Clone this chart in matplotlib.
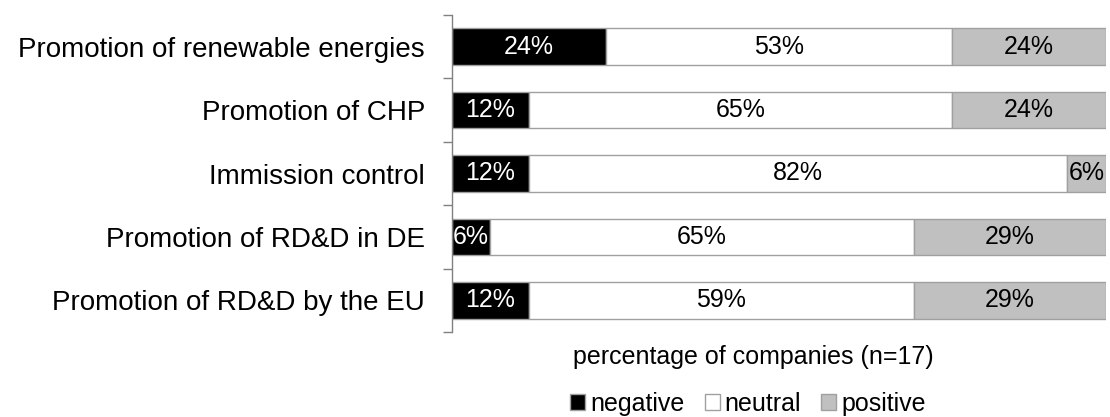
import matplotlib
matplotlib.use("Agg")
import matplotlib.pyplot as plt
from matplotlib.patches import Patch

plt.rcParams['font.family'] = ['Liberation Sans', 'DejaVu Sans']

categories = ["Promotion of renewable energies", "Promotion of CHP", "Immission control",
              "Promotion of RD&D in DE", "Promotion of RD&D by the EU"]
negative = [23.53, 11.76, 11.76, 5.88, 11.76]
neutral = [52.94, 64.71, 82.35, 64.71, 58.82]
positive = [23.53, 23.53, 5.88, 29.41, 29.41]
series_names = ["negative", "neutral", "positive"]
colors = ["#000000", "#ffffff", "#c0c0c0"]
text_colors = ["white", "black", "black"]

fig = plt.figure(figsize=(11.10, 4.17), dpi=100)
ax = fig.add_axes([452/1110, 1-332/417, 654/1110, 317/417])

y = list(range(len(categories)))
left = [0.0] * len(categories)
for vals, col, tc in zip([negative, neutral, positive], colors, text_colors):
    ax.barh(y, vals, left=left, height=0.58, color=col, edgecolor="#a0a0a0", linewidth=1.0)
    for yi, l, v in zip(y, left, vals):
        ax.text(l + v/2, yi, f"{v:.0f}%", ha="center", va="center", fontsize=18, color=tc)
    left = [a + b for a, b in zip(left, vals)]

ax.set_xlim(0, 100)
ax.set_ylim(len(categories) - 0.5, -0.5)
ax.set_yticks(y)
ax.set_yticklabels(categories, fontsize=20)
ax.tick_params(axis="y", which="major", length=0, pad=19.5)
ax.set_yticks([i - 0.5 for i in range(len(categories) + 1)], minor=True)
ax.tick_params(axis="y", which="minor", length=6.5, color="#808080", width=1.0)
ax.set_xticks([])
for s in ["top", "right", "bottom"]:
    ax.spines[s].set_visible(False)
ax.spines["left"].set_color("#808080")
ax.spines["left"].set_linewidth(1.0)

fig.text(753/1110, 1-357/417, "percentage of companies (n=17)", ha="center", va="center", fontsize=18)

handles = [Patch(facecolor=c, edgecolor="#a0a0a0", linewidth=1.0) for c in colors]
fig.legend(handles, series_names, loc="center", bbox_to_anchor=(748/1110, 1-404/417), ncol=3,
           frameon=False, fontsize=18, handlelength=0.6, handleheight=0.6, handletextpad=0.2,
           columnspacing=0.8, borderpad=0, borderaxespad=0)

fig.savefig("out.png", dpi=100)
